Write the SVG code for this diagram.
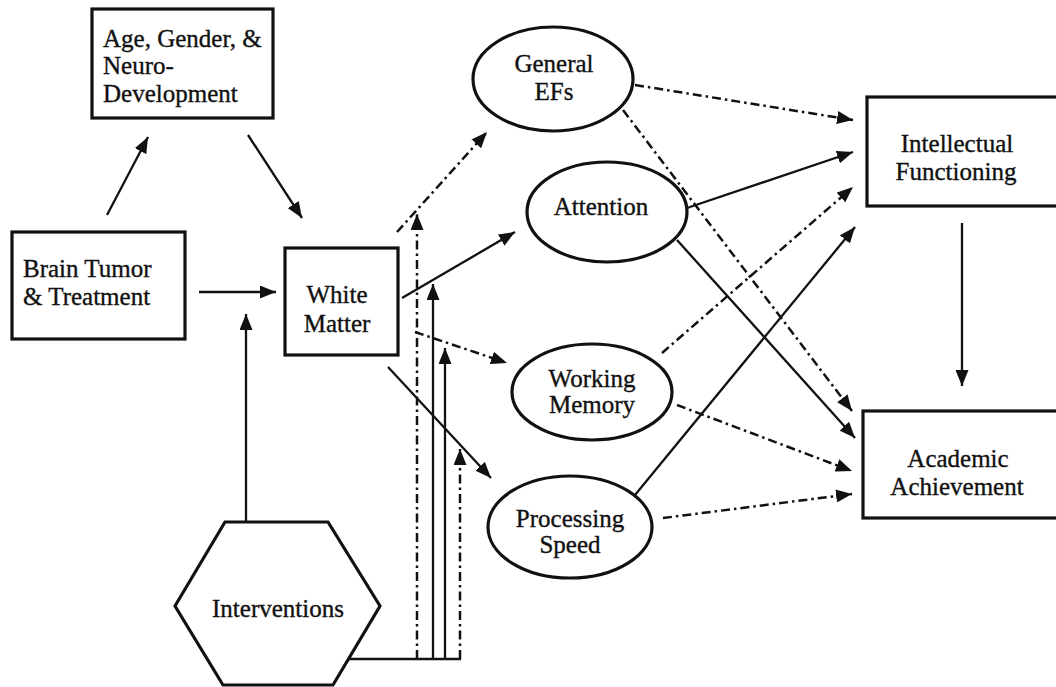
<svg xmlns="http://www.w3.org/2000/svg" width="1056" height="687" viewBox="0 0 1056 687">
<style>
.box{fill:#fff;stroke:#111;stroke-width:3.2}
.t{font-family:"Liberation Serif","Times New Roman",serif;font-size:25px;fill:#111;stroke:#111;stroke-width:0.35}
.c{text-anchor:middle}
.s{fill:none;stroke:#111;stroke-width:2.3}
.d{fill:none;stroke:#111;stroke-width:2.5;stroke-dasharray:9 4 2.5 4}
</style>
<defs>
<marker id="ah" markerUnits="userSpaceOnUse" markerWidth="17" markerHeight="13" refX="16" refY="6.5" orient="auto">
<path d="M0,0 L16,6.5 L0,13 z" fill="#111"/>
</marker>
</defs>
<rect width="1056" height="687" fill="#fff"/>

<g id="age">
<rect class="box" x="92" y="9" width="181" height="109"/>
<text class="t" x="103" y="47">Age, Gender, &amp;</text>
<text class="t" x="103" y="74">Neuro-</text>
<text class="t" x="103" y="102">Development</text>
</g>
<g id="brain">
<rect class="box" x="12" y="232" width="173" height="107"/>
<text class="t" x="23" y="277">Brain Tumor</text>
<text class="t" x="23" y="305">&amp; Treatment</text>
</g>
<g id="white">
<rect class="box" x="285" y="248" width="113" height="107"/>
<text class="t c" x="337" y="303">White</text>
<text class="t c" x="337" y="332">Matter</text>
</g>
<g id="interventions">
<polygon class="box" points="175,606 225,522 328,522 380,606 333,685 223,685"/>
<text class="t c" x="278" y="617">Interventions</text>
</g>
<g id="gef">
<ellipse class="box" cx="553" cy="79" rx="80" ry="52"/>
<text class="t c" x="554" y="72">General</text>
<text class="t c" x="554" y="100">EFs</text>
</g>
<g id="attention">
<ellipse class="box" cx="607" cy="212" rx="80" ry="50"/>
<text class="t c" x="601" y="215">Attention</text>
</g>
<g id="wm">
<ellipse class="box" cx="592" cy="392" rx="80" ry="48"/>
<text class="t c" x="592" y="387">Working</text>
<text class="t c" x="592" y="413">Memory</text>
</g>
<g id="ps">
<ellipse class="box" cx="570" cy="527" rx="82" ry="51"/>
<text class="t c" x="570" y="527">Processing</text>
<text class="t c" x="570" y="553">Speed</text>
</g>
<g id="intellectual">
<rect class="box" x="867" y="97" width="200" height="109"/>
<text class="t c" x="957" y="152">Intellectual</text>
<text class="t c" x="956" y="180">Functioning</text>
</g>
<g id="academic">
<rect class="box" x="863" y="411" width="204" height="107"/>
<text class="t c" x="958" y="467">Academic</text>
<text class="t c" x="957" y="495">Achievement</text>
</g>

<g id="connectors">
<line class="s" x1="107" y1="215" x2="148" y2="137" marker-end="url(#ah)"/>
<line class="s" x1="248" y1="135" x2="302" y2="218" marker-end="url(#ah)"/>
<line class="s" x1="199" y1="292" x2="276" y2="292" marker-end="url(#ah)"/>
<line class="s" x1="246" y1="522" x2="246" y2="314" marker-end="url(#ah)"/>

<polyline class="s" points="348,659 461,659"/>
<line class="d" x1="417" y1="659" x2="417" y2="214" marker-end="url(#ah)"/>
<line class="s" x1="433" y1="659" x2="433" y2="284" marker-end="url(#ah)"/>
<line class="s" x1="445" y1="659" x2="445" y2="348" marker-end="url(#ah)"/>
<line class="d" x1="460" y1="659" x2="460" y2="449" marker-end="url(#ah)"/>

<line class="d" x1="397" y1="232" x2="487" y2="132" marker-end="url(#ah)"/>
<line class="s" x1="402" y1="298" x2="515" y2="232" marker-end="url(#ah)"/>
<line class="d" x1="415" y1="332" x2="507" y2="363" marker-end="url(#ah)"/>
<line class="s" x1="388" y1="367" x2="491" y2="478" marker-end="url(#ah)"/>

<line class="d" x1="635" y1="85" x2="853" y2="120" marker-end="url(#ah)"/>
<line class="d" x1="623" y1="110" x2="852" y2="411" marker-end="url(#ah)"/>
<line class="s" x1="687" y1="208" x2="853" y2="152" marker-end="url(#ah)"/>
<line class="s" x1="677" y1="240" x2="855" y2="438" marker-end="url(#ah)"/>
<line class="d" x1="662" y1="353" x2="853" y2="187" marker-end="url(#ah)"/>
<line class="s" x1="635" y1="495" x2="855" y2="227" marker-end="url(#ah)"/>
<line class="d" x1="677" y1="405" x2="852" y2="471" marker-end="url(#ah)"/>
<line class="d" x1="663" y1="518" x2="852" y2="494" marker-end="url(#ah)"/>

<line class="s" x1="962" y1="223" x2="962" y2="386" marker-end="url(#ah)"/>
</g>
</svg>
